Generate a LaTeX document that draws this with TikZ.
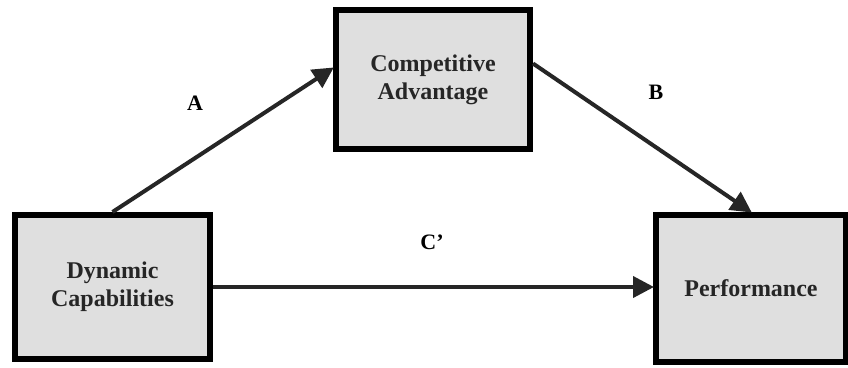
\documentclass[tikz,border=0pt]{standalone}
\usepackage{fontspec}
\setmainfont{Liberation Serif}
\usetikzlibrary{arrows.meta}
\begin{document}
\begin{tikzpicture}[x=1pt,y=-1pt,
  box/.style={draw=black, line width=6pt, fill=gray!25, minimum width=#1, align=center,
    font=\fontsize{24}{28}\selectfont\bfseries, text=black!85, inner sep=0pt},
  link/.style={line width=4pt, draw=black!85, -{Triangle[length=21pt,width=21pt]}, shorten >=-1pt},
  lbl/.style={font=\fontsize{22}{26}\selectfont\bfseries, inner sep=0pt}]
\useasboundingbox (0,0) rectangle (848,367);
\node[box=195pt, minimum height=144pt] (dc) at (112.5,287) {Dynamic\\Capabilities};
\node[box=194pt, minimum height=139pt] (ca) at (433,79.5) {Competitive\\Advantage};
\node[box=190pt, minimum height=147pt] (pf) at (751,288.5) {Performance};
\draw[link] (dc.north) -- ([yshift=11.5pt]ca.west);
\draw[link] ([yshift=16pt]ca.east) -- (pf.north);
\draw[link] (dc.east) -- (dc.east -| pf.west);
\node[lbl] (la) at (195,103) {A};
\node[lbl] (lb) at (656,92) {B};
\node[lbl] (lc) at (432,242) {C’};
\end{tikzpicture}
\end{document}
